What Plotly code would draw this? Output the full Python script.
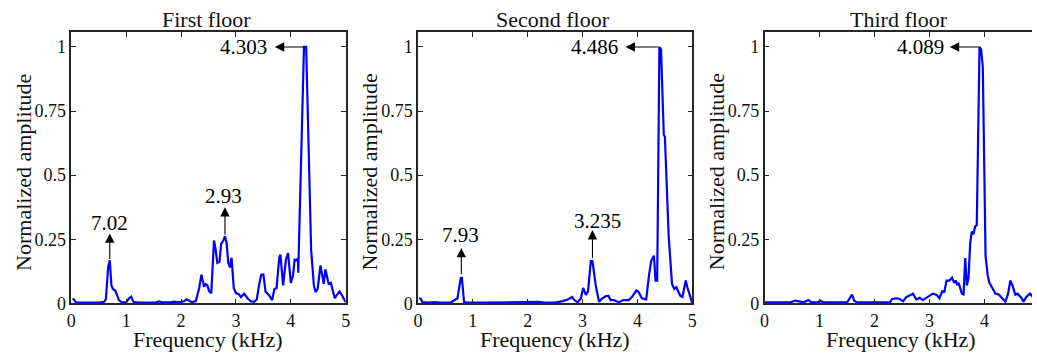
import plotly.graph_objects as go

# ---------------- data ----------------
freq1 = [0.02, 0.05, 0.08, 0.20, 0.35, 0.50, 0.60, 0.63, 0.67, 0.70, 0.73, 0.76, 0.80, 0.83, 0.87,
         0.92, 1.00, 1.05, 1.09, 1.13, 1.20, 1.40, 1.55, 1.60, 1.65, 1.80, 1.88, 1.95, 2.05, 2.10,
         2.14, 2.20, 2.27, 2.33, 2.37, 2.40, 2.42, 2.45, 2.48, 2.51, 2.55, 2.60, 2.63, 2.66, 2.70,
         2.73, 2.77, 2.80, 2.83, 2.86, 2.89, 2.92, 2.96, 3.00, 3.05, 3.09, 3.15, 3.21, 3.27, 3.33,
         3.38, 3.42, 3.46, 3.50, 3.54, 3.60, 3.66, 3.70, 3.74, 3.79, 3.81, 3.86, 3.91, 3.95, 4.00,
         4.04, 4.07, 4.10, 4.13, 4.135, 4.24, 4.28, 4.37, 4.42, 4.45, 4.49, 4.54, 4.56, 4.60, 4.63,
         4.66, 4.69, 4.73, 4.77, 4.80, 4.84, 4.89, 4.93, 5.00]
amp1 = [0.018, 0.015, 0.004, 0.003, 0.004, 0.003, 0.006, 0.017, 0.140, 0.168, 0.070, 0.055, 0.050, 0.035, 0.012,
        0.004, 0.004, 0.020, 0.026, 0.006, 0.003, 0.003, 0.004, 0.008, 0.004, 0.004, 0.007, 0.004, 0.008, 0.016,
        0.010, 0.004, 0.010, 0.060, 0.112, 0.080, 0.065, 0.075, 0.070, 0.048, 0.040, 0.245, 0.210, 0.158, 0.162,
        0.232, 0.245, 0.262, 0.236, 0.158, 0.140, 0.178, 0.060, 0.040, 0.036, 0.025, 0.038, 0.020, 0.008, 0.006,
        0.015, 0.070, 0.112, 0.113, 0.045, 0.033, 0.013, 0.055, 0.060, 0.180, 0.190, 0.070, 0.170, 0.196, 0.080,
        0.110, 0.170, 0.168, 0.175, 0.120, 1.000, 1.000, 0.210, 0.070, 0.044, 0.057, 0.148, 0.125, 0.076, 0.133,
        0.110, 0.076, 0.080, 0.050, 0.020, 0.033, 0.047, 0.033, 0.004]

freq2 = [0.02, 0.05, 0.08, 0.20, 0.30, 0.40, 0.60, 0.66, 0.72, 0.78, 0.80, 0.84, 0.90, 1.20, 1.50,
         2.00, 2.20, 2.30, 2.50, 2.64, 2.73, 2.81, 2.85, 2.91, 2.97, 3.01, 3.06, 3.10, 3.15, 3.18,
         3.24, 3.30, 3.36, 3.42, 3.47, 3.51, 3.57, 3.66, 3.74, 3.84, 3.90, 3.98, 4.02, 4.08, 4.16,
         4.21, 4.25, 4.30, 4.33, 4.36, 4.40, 4.43, 4.48, 4.50, 4.57, 4.63, 4.67, 4.71, 4.78, 4.82,
         4.88, 4.91, 5.00]
amp2 = [0.020, 0.018, 0.005, 0.003, 0.005, 0.003, 0.004, 0.012, 0.020, 0.100, 0.100, 0.005, 0.003, 0.003, 0.004,
        0.003, 0.006, 0.003, 0.003, 0.009, 0.015, 0.025, 0.013, 0.004, 0.020, 0.060, 0.033, 0.047, 0.165, 0.165,
        0.070, 0.006, 0.020, 0.028, 0.030, 0.013, 0.013, 0.004, 0.013, 0.013, 0.025, 0.050, 0.045, 0.020, 0.016,
        0.108, 0.165, 0.186, 0.089, 0.089, 1.000, 0.990, 0.658, 0.650, 0.260, 0.076, 0.057, 0.063, 0.030, 0.025,
        0.089, 0.063, 0.000]

freq3 = [0.00, 0.47, 0.56, 0.62, 0.71, 0.80, 0.85, 0.96, 1.01, 1.07, 1.50, 1.54, 1.59, 1.63, 1.68,
         2.28, 2.32, 2.40, 2.46, 2.52, 2.58, 2.63, 2.70, 2.76, 2.82, 2.88, 2.97, 3.06, 3.13, 3.18,
         3.23, 3.27, 3.31, 3.36, 3.41, 3.45, 3.48, 3.51, 3.53, 3.59, 3.62, 3.65, 3.68, 3.71, 3.74,
         3.77, 3.80, 3.83, 3.86, 3.91, 3.94, 3.97, 4.02, 4.06, 4.09, 4.15, 4.20, 4.26, 4.32, 4.38,
         4.43, 4.47, 4.51, 4.56, 4.60, 4.67, 4.71, 4.76, 4.83, 4.90, 5.00]
amp3 = [0.004, 0.004, 0.011, 0.009, 0.004, 0.013, 0.004, 0.004, 0.010, 0.004, 0.004, 0.017, 0.034, 0.010, 0.004,
        0.004, 0.017, 0.020, 0.017, 0.008, 0.025, 0.030, 0.038, 0.015, 0.022, 0.013, 0.025, 0.038, 0.033, 0.020,
        0.047, 0.045, 0.089, 0.089, 0.100, 0.080, 0.089, 0.070, 0.080, 0.038, 0.035, 0.177, 0.070, 0.100, 0.234,
        0.280, 0.270, 0.300, 0.305, 1.000, 0.990, 0.920, 0.184, 0.108, 0.080, 0.057, 0.038, 0.035, 0.019, 0.006,
        0.038, 0.089, 0.070, 0.034, 0.038, 0.022, 0.006, 0.025, 0.038, 0.020, 0.005]

panel_titles = ["First floor", "Second floor", "Third floor"]
x_ticks = [0, 1, 2, 3, 4, 5]
y_ticks = [0, 0.25, 0.5, 0.75, 1]
y_ticklabels = ["0", "0.25", "0.5", "0.75", "1"]
x_title = "Frequency (kHz)"
y_title = "Normalized amplitude"

# peak labels: (panel, text, tail x, tail y, head x, head y, text x, text y, text anchor)
peak_labels = [
    (1, "7.02", 0.70, 0.167, 0.70, 0.273, 0.70, 0.315, "center"),
    (1, "2.93", 2.80, 0.262, 2.80, 0.375, 2.78, 0.418, "center"),
    (1, "4.303", 4.27, 1.0, 3.71, 1.0, 3.61, 1.0, "right"),
    (2, "7.93", 0.79, 0.109, 0.79, 0.216, 0.78, 0.267, "center"),
    (2, "3.235", 3.18, 0.170, 3.18, 0.286, 3.27, 0.320, "center"),
    (2, "4.486", 4.41, 1.0, 3.785, 1.0, 3.69, 1.0, "right"),
    (3, "4.089", 3.93, 1.0, 3.37, 1.0, 3.30, 1.0, "right"),
]

# ---------------- layout helpers ----------------
W, H = 1037, 362
FONT = "Liberation Serif"
AX = "#262626"
LINE_BLUE = "#0000FF"

def fx(p):
    return p / W

def fy(p):
    return 1 - p / H

x_domains = [(67, 344), (417, 694), (767, 1037)]
x_ranges = [[0, 5], [0, 5], [0, (1037 - 767) / 55.5]]
y_dom = [fy(312), fy(33)]
y_range = [0, 1.058]

fig = go.Figure()
series = [(freq1, amp1), (freq2, amp2), (freq3, amp3)]
for i, (fx_, ay_) in enumerate(series):
    sfx = "" if i == 0 else str(i + 1)
    fig.add_trace(go.Scatter(x=fx_, y=ay_, mode="lines",
                             line=dict(color=LINE_BLUE, width=2.2),
                             xaxis="x" + sfx, yaxis="y" + sfx,
                             showlegend=False, hoverinfo="skip"))

layout = dict(width=W, height=H, margin=dict(l=0, r=0, t=0, b=0),
              paper_bgcolor="white", plot_bgcolor="white",
              font=dict(family=FONT, color="#111111"), showlegend=False)

for i in range(3):
    sfx = "" if i == 0 else str(i + 1)
    common = dict(showline=True, linecolor=AX, linewidth=1.5,
                  ticks="inside", ticklen=5, tickwidth=1.2, tickcolor=AX,
                  showgrid=False, zeroline=False,
                  tickfont=dict(family=FONT, size=18, color="#111111"))
    layout["xaxis" + sfx] = dict(common, domain=[fx(x_domains[i][0]), fx(x_domains[i][1])],
                                 range=x_ranges[i], anchor="y" + sfx, mirror="ticks",
                                 tickvals=x_ticks, ticktext=[str(t) for t in x_ticks])
    layout["yaxis" + sfx] = dict(common, domain=y_dom, range=y_range, anchor="x" + sfx,
                                 mirror=("ticks" if i < 2 else False),
                                 tickvals=y_ticks, ticktext=y_ticklabels)

fig.update_layout(**layout)

anns = []
title_cx = [203, 553, 903]
xtitle_cx = [205, 555, 905]
for i in range(3):
    anns.append(dict(text=panel_titles[i], x=fx(title_cx[i]), y=fy(20), xref="paper", yref="paper",
                     xanchor="center", yanchor="middle", showarrow=False,
                     font=dict(family=FONT, size=22, color="#111111")))
    anns.append(dict(text=x_title, x=fx(xtitle_cx[i]), y=fy(349), xref="paper", yref="paper",
                     xanchor="center", yanchor="middle", showarrow=False,
                     font=dict(family=FONT, size=22, color="#111111")))
    anns.append(dict(text=y_title, x=fx(x_domains[i][0] - 49), y=fy(177), xref="paper", yref="paper",
                     xanchor="center", yanchor="middle", showarrow=False, textangle=-90,
                     font=dict(family=FONT, size=22, color="#111111")))

for (p, txt, tx, ty, hx, hy, lx, ly, anc) in peak_labels:
    sfx = "" if p == 1 else str(p)
    anns.append(dict(text="", x=hx, y=hy, ax=tx, ay=ty, xref="x" + sfx, yref="y" + sfx,
                     axref="x" + sfx, ayref="y" + sfx, showarrow=True,
                     arrowhead=2, arrowsize=1.7, arrowwidth=1.1, arrowcolor="black"))
    anns.append(dict(text=txt, x=lx, y=ly, xref="x" + sfx, yref="y" + sfx,
                     xanchor=anc, yanchor="middle", showarrow=False,
                     font=dict(family=FONT, size=21, color="black")))

fig.update_layout(annotations=anns)
fig.write_html("out.html")
